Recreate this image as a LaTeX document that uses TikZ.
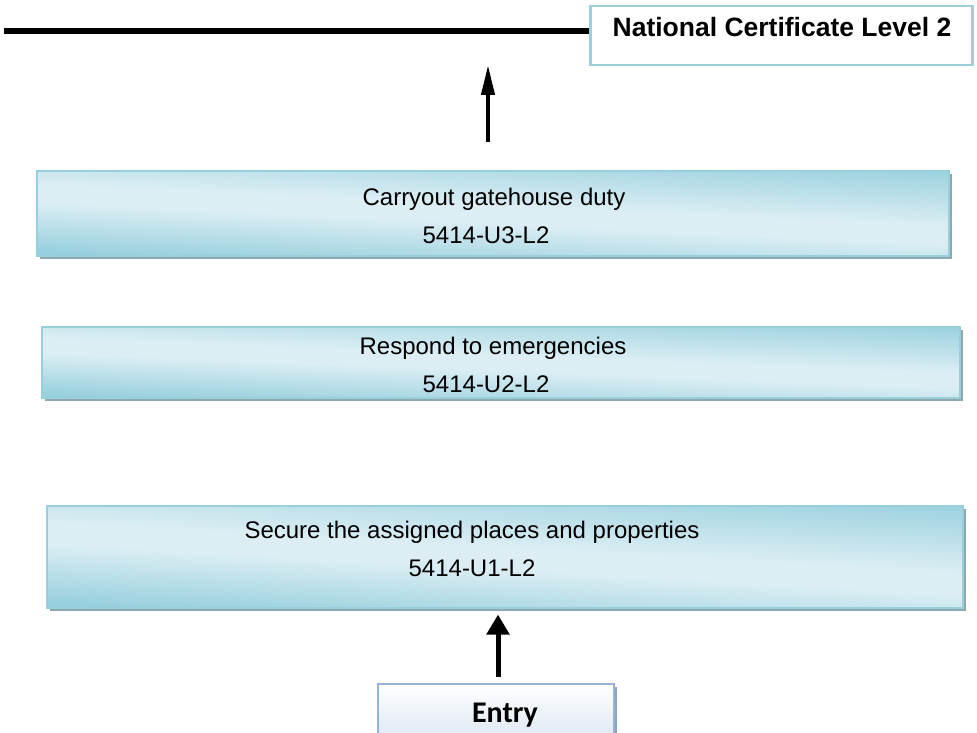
\documentclass[tikz,border=0pt]{standalone}
\usepackage{fontspec}
\setmainfont{Liberation Sans}
\newfontfamily\entryfont{Carlito}
\usetikzlibrary{arrows.meta,shadows}
\definecolor{bdk}{HTML}{92CDDC}
\definecolor{blt}{HTML}{DCEEF4}
\definecolor{bedge}{HTML}{97CFDD}
\definecolor{shd}{HTML}{8FA8AE}
\definecolor{nedge}{HTML}{9DD0DD}
\definecolor{eedge}{HTML}{95B3D7}
\definecolor{ebot}{HTML}{D5E1F0}
\pgfdeclareverticalshading{boxshade}{100bp}{color(0bp)=(bdk); color(31bp)=(bdk); color(47bp)=(blt); color(52bp)=(blt); color(71bp)=(bdk); color(100bp)=(bdk)}
% name, left x, top y, width, height, slant
\newcommand\unitboxdraw[6]{%
  \fill[shd] (#2+4,#3+4) rectangle ++(#4,#5);
  \begin{scope}
    \clip (#2,#3) rectangle ++(#4,#5);
    \shade[shading=boxshade, transform canvas={shift={(#2+#4/2,#3+#5/2)}, yslant=#6}]
      (-#4/2-10,-#5) rectangle (#4/2+10,#5);
  \end{scope}
  \node[ubox, minimum width=#4pt, minimum height=#5pt] (#1) at (#2,#3) {};
}
\begin{document}
\begin{tikzpicture}[x=1pt,y=-1pt,
  ubox/.style={draw=bedge, line width=1.5pt, anchor=north west, inner sep=0pt},
  utext/.style={anchor=base, font=\fontsize{24}{28}\selectfont, inner sep=0pt},
]
\useasboundingbox (0,0) rectangle (977,733);
\clip (0,0) rectangle (977,733);
% top certificate box and line
\node[draw=nedge, line width=2.5pt, fill=white, anchor=north west, minimum width=382pt, minimum height=59pt, inner sep=0pt] (ncl) at (589,5) {};
\node[anchor=base, font=\bfseries\fontsize{26.5}{30}\selectfont, inner sep=0pt] (ncltext) at (782,37) {National Certificate Level 2};
\coordinate (lstart) at (4,31);
\draw[line width=6pt] (lstart) -- (lstart -| ncl.west);
\coordinate (arrtop) at (488,31);
% unit boxes
\unitboxdraw{u3}{36}{170}{912}{85}{-0.0466}
\node[utext] (u3a) at (494,205) {Carryout gatehouse duty};
\node[utext] (u3b) at (486,243) {5414-U3-L2};
\unitboxdraw{u2}{41}{326}{918}{71}{-0.0387}
\node[utext] (u2a) at (493,354) {Respond to emergencies};
\node[utext] (u2b) at (486,392) {5414-U2-L2};
\unitboxdraw{u1}{46}{505}{916}{102}{-0.0557}
\node[utext] (u1a) at (472,538) {Secure the assigned places and properties};
\node[utext] (u1b) at (472,576) {5414-U1-L2};
% entry box
\node[draw=eedge, line width=1.5pt, top color=white, bottom color=ebot, anchor=north west,
  minimum width=236pt, minimum height=70pt, inner sep=0pt,
  drop shadow={shadow xshift=3pt, shadow yshift=-3pt, fill=shd, opacity=1}] (entry) at (377,683) {};
\node[anchor=base, font=\entryfont\bfseries\fontsize{30}{32}\selectfont, inner sep=0pt] (entrytext) at (505,722) {Entry};
% arrows
\draw[line width=4pt, -{Triangle[length=30pt,width=13pt]}, shorten <=28pt, shorten >=34pt] (u3.north -| arrtop) -- (arrtop);
\coordinate (arr2) at (498,0);
\draw[line width=5pt, -{Triangle[length=20pt,width=22pt]}, shorten <=6pt, shorten >=6pt] (entry.north -| arr2) -- (u1.south -| arr2);
\end{tikzpicture}
\end{document}
